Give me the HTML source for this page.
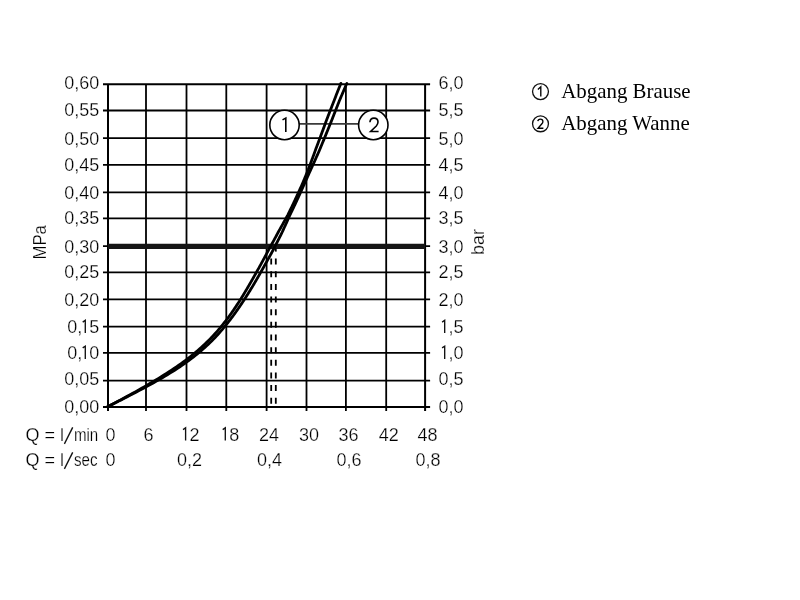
<!DOCTYPE html>
<html><head><meta charset="utf-8"><style>
html,body{margin:0;padding:0;background:#fff;width:800px;height:600px;overflow:hidden}
svg{display:block;filter:grayscale(1)}
</style></head><body>
<svg width="800" height="600" viewBox="0 0 800 600">
<rect width="800" height="600" fill="#fff"/>
<g stroke="#000" fill="none">
<line x1="103.00" y1="84.30" x2="430.10" y2="84.30" stroke-width="2.00"/>
<line x1="103.00" y1="110.50" x2="430.10" y2="110.50" stroke-width="1.80"/>
<line x1="103.00" y1="138.10" x2="430.10" y2="138.10" stroke-width="1.80"/>
<line x1="103.00" y1="164.80" x2="430.10" y2="164.80" stroke-width="1.80"/>
<line x1="103.00" y1="192.30" x2="430.10" y2="192.30" stroke-width="1.80"/>
<line x1="103.00" y1="218.40" x2="430.10" y2="218.40" stroke-width="1.80"/>
<line x1="103.00" y1="246.10" x2="430.10" y2="246.10" stroke-width="1.80"/>
<line x1="103.00" y1="272.40" x2="430.10" y2="272.40" stroke-width="1.80"/>
<line x1="103.00" y1="299.30" x2="430.10" y2="299.30" stroke-width="1.80"/>
<line x1="103.00" y1="326.60" x2="430.10" y2="326.60" stroke-width="1.80"/>
<line x1="103.00" y1="352.90" x2="430.10" y2="352.90" stroke-width="1.80"/>
<line x1="103.00" y1="380.70" x2="430.10" y2="380.70" stroke-width="1.80"/>
<line x1="103.00" y1="406.90" x2="430.10" y2="406.90" stroke-width="2.00"/>
<line x1="108.00" y1="84.30" x2="108.00" y2="410.90" stroke-width="2.00"/>
<line x1="146.00" y1="84.30" x2="146.00" y2="410.90" stroke-width="1.80"/>
<line x1="186.50" y1="84.30" x2="186.50" y2="410.90" stroke-width="1.80"/>
<line x1="226.30" y1="84.30" x2="226.30" y2="410.90" stroke-width="1.80"/>
<line x1="266.60" y1="84.30" x2="266.60" y2="410.90" stroke-width="1.80"/>
<line x1="306.50" y1="84.30" x2="306.50" y2="410.90" stroke-width="1.80"/>
<line x1="345.90" y1="84.30" x2="345.90" y2="410.90" stroke-width="1.80"/>
<line x1="386.20" y1="84.30" x2="386.20" y2="410.90" stroke-width="1.80"/>
<line x1="425.10" y1="84.30" x2="425.10" y2="410.90" stroke-width="2.00"/>
<line x1="108.00" y1="246.35" x2="425.10" y2="246.35" stroke-width="5.3" stroke="#151515"/>
<line x1="271.2" y1="258.6" x2="271.2" y2="406" stroke-width="1.8" stroke-dasharray="6 6.65"/>
<line x1="275.8" y1="248.4" x2="275.8" y2="251.6" stroke-width="1.8"/>
<line x1="275.8" y1="258.6" x2="275.8" y2="406" stroke-width="1.8" stroke-dasharray="6 6.65"/>
<line x1="299" y1="123.9" x2="359" y2="123.9" stroke="#3a3a3a" stroke-width="1.8"/>
<path d="M107.60,406.80 L109.04,406.03 L110.48,405.26 L111.91,404.49 L113.35,403.72 L114.79,402.95 L116.23,402.18 L117.67,401.41 L119.11,400.64 L120.54,399.87 L123.61,398.22 L126.67,396.57 L129.71,394.92 L132.72,393.26 L135.72,391.61 L138.69,389.95 L141.63,388.29 L144.55,386.64 L147.43,384.98 L150.27,383.32 L153.08,381.67 L155.85,380.01 L158.58,378.36 L161.26,376.70 L163.91,375.05 L166.50,373.40 L169.06,371.74 L171.56,370.09 L174.02,368.45 L176.43,366.81 L178.79,365.17 L181.11,363.53 L183.37,361.90 L185.58,360.26 L187.74,358.62 L189.85,356.99 L191.91,355.36 L193.92,353.73 L195.88,352.10 L197.80,350.48 L199.67,348.86 L201.49,347.24 L203.26,345.62 L204.99,344.00 L206.68,342.38 L208.32,340.76 L209.92,339.14 L211.49,337.53 L213.01,335.91 L214.50,334.29 L215.96,332.67 L217.38,331.05 L218.78,329.43 L220.14,327.82 L221.48,326.20 L222.79,324.58 L224.07,322.96 L225.33,321.34 L226.57,319.73 L227.79,318.11 L228.99,316.49 L230.16,314.87 L231.32,313.25 L232.46,311.63 L233.59,310.01 L234.69,308.39 L235.78,306.77 L236.85,305.14 L237.91,303.52 L238.96,301.89 L239.99,300.27 L241.01,298.65 L242.02,297.02 L243.02,295.40 L244.01,293.77 L244.99,292.15 L245.96,290.52 L246.93,288.90 L247.88,287.27 L248.83,285.65 L249.77,284.02 L250.71,282.40 L251.65,280.78 L252.57,279.16 L253.50,277.54 L254.42,275.92 L255.33,274.30 L256.24,272.67 L257.15,271.05 L258.05,269.43 L258.95,267.81 L259.84,266.19 L260.73,264.56 L261.62,262.94 L262.50,261.32 L263.38,259.70 L264.26,258.07 L265.13,256.45 L266.01,254.83 L266.87,253.20 L267.74,251.58 L268.61,249.96 L269.48,248.34 L270.36,246.74 L271.25,245.13 L272.13,243.52 L273.01,241.91 L273.88,240.31 L274.75,238.70 L275.62,237.09 L276.48,235.48 L277.34,233.88 L278.20,232.27 L279.07,230.67 L279.97,229.09 L280.86,227.50 L281.75,225.92 L282.64,224.34 L283.52,222.75 L284.40,221.17 L285.28,219.58 L286.15,218.00 L287.02,216.41 L287.88,214.83 L288.69,213.22 L289.48,211.60 L290.26,209.98 L291.04,208.36 L291.82,206.74 L292.59,205.13 L293.36,203.51 L294.13,201.89 L294.89,200.27 L295.64,198.66 L296.40,197.04 L297.14,195.42 L297.89,193.80 L298.63,192.19 L299.36,190.57 L300.09,188.95 L300.82,187.33 L301.54,185.71 L302.25,184.09 L302.94,182.46 L303.63,180.83 L304.31,179.20 L304.98,177.57 L305.65,175.94 L306.32,174.32 L306.99,172.69 L307.65,171.06 L308.31,169.43 L308.93,167.78 L309.55,166.14 L310.16,164.50 L310.78,162.86 L311.39,161.22 L311.99,159.58 L312.60,157.93 L313.20,156.29 L313.80,154.65 L314.39,153.01 L314.98,151.37 L315.58,149.73 L316.18,148.10 L316.80,146.47 L317.41,144.84 L318.02,143.21 L318.63,141.58 L319.24,139.95 L319.84,138.32 L320.45,136.69 L321.05,135.06 L321.65,133.43 L322.25,131.80 L322.85,130.17 L323.45,128.54 L324.05,126.91 L324.65,125.28 L325.25,123.64 L325.84,122.01 L326.44,120.38 L327.05,118.75 L327.67,117.13 L328.29,115.51 L328.92,113.88 L329.55,112.26 L330.17,110.64 L330.80,109.01 L331.43,107.39 L332.07,105.76 L332.70,104.14 L333.34,102.51 L333.98,100.89 L334.62,99.26 L335.25,97.63 L335.88,96.00 L336.51,94.36 L337.15,92.73 L337.79,91.09 L338.44,89.46 L339.09,87.82 L339.74,86.19 L340.40,84.55 L340.87,83.40" fill="none" stroke-width="2.8" stroke-linecap="round" stroke-linejoin="round"/>
<path d="M107.60,406.80 L109.05,406.06 L110.51,405.32 L111.96,404.58 L113.42,403.84 L114.87,403.10 L116.32,402.35 L117.77,401.61 L119.23,400.87 L120.68,400.13 L123.78,398.54 L126.87,396.95 L129.94,395.36 L133.00,393.77 L136.03,392.19 L139.05,390.60 L142.03,389.02 L144.99,387.43 L147.91,385.85 L150.81,384.26 L153.66,382.68 L156.48,381.09 L159.26,379.51 L162.00,377.92 L164.69,376.33 L167.34,374.74 L169.95,373.16 L172.51,371.57 L175.02,369.97 L177.48,368.37 L179.89,366.76 L182.25,365.16 L184.56,363.56 L186.82,361.95 L189.03,360.35 L191.19,358.74 L193.31,357.13 L195.37,355.52 L197.37,353.90 L199.33,352.28 L201.23,350.66 L203.09,349.04 L204.91,347.42 L206.68,345.80 L208.40,344.18 L210.09,342.55 L211.73,340.93 L213.33,339.31 L214.90,337.69 L216.43,336.06 L217.92,334.44 L219.39,332.82 L220.82,331.19 L222.22,329.57 L223.59,327.95 L224.94,326.32 L226.26,324.70 L227.55,323.08 L228.83,321.46 L230.08,319.83 L231.31,318.21 L232.52,316.59 L233.71,314.97 L234.88,313.34 L236.04,311.72 L237.18,310.10 L238.31,308.48 L239.43,306.87 L240.53,305.25 L241.62,303.63 L242.69,302.02 L243.75,300.40 L244.80,298.78 L245.85,297.16 L246.88,295.55 L247.90,293.93 L248.91,292.32 L249.91,290.70 L250.90,289.08 L251.89,287.47 L252.87,285.85 L253.83,284.23 L254.79,282.61 L255.74,280.99 L256.68,279.37 L257.62,277.75 L258.56,276.13 L259.49,274.51 L260.41,272.89 L261.33,271.27 L262.25,269.65 L263.16,268.04 L264.07,266.42 L264.98,264.80 L265.88,263.18 L266.78,261.56 L267.68,259.94 L268.57,258.32 L269.46,256.71 L270.35,255.09 L271.24,253.47 L272.12,251.85 L272.99,250.22 L273.84,248.59 L274.68,246.96 L275.52,245.32 L276.36,243.69 L277.20,242.06 L278.04,240.42 L278.87,238.79 L279.69,237.16 L280.52,235.52 L281.34,233.89 L282.14,232.25 L282.90,230.59 L283.66,228.93 L284.42,227.27 L285.18,225.61 L285.92,223.96 L286.67,222.30 L287.41,220.64 L288.15,218.99 L288.88,217.33 L289.61,215.67 L290.39,214.05 L291.18,212.42 L291.96,210.80 L292.74,209.18 L293.51,207.55 L294.28,205.93 L295.05,204.30 L295.81,202.68 L296.57,201.06 L297.32,199.43 L298.07,197.81 L298.81,196.19 L299.55,194.56 L300.29,192.94 L301.02,191.32 L301.75,189.69 L302.47,188.07 L303.19,186.45 L303.92,184.83 L304.66,183.22 L305.39,181.60 L306.12,179.99 L306.85,178.38 L307.57,176.77 L308.29,175.16 L309.01,173.55 L309.72,171.93 L310.43,170.32 L311.17,168.72 L311.90,167.12 L312.63,165.52 L313.36,163.93 L314.09,162.33 L314.81,160.73 L315.53,159.13 L316.24,157.53 L316.95,155.93 L317.66,154.33 L318.37,152.73 L319.07,151.13 L319.76,149.52 L320.43,147.90 L321.10,146.29 L321.76,144.68 L322.43,143.07 L323.09,141.46 L323.76,139.85 L324.42,138.24 L325.07,136.62 L325.73,135.01 L326.39,133.40 L327.05,131.79 L327.70,130.18 L328.36,128.57 L329.01,126.96 L329.66,125.35 L330.32,123.74 L330.97,122.13 L331.62,120.52 L332.25,118.90 L332.88,117.28 L333.51,115.66 L334.14,114.05 L334.78,112.43 L335.41,110.81 L336.05,109.20 L336.69,107.58 L337.33,105.96 L337.97,104.35 L338.62,102.73 L339.26,101.11 L339.93,99.51 L340.60,97.90 L341.28,96.29 L341.96,94.68 L342.64,93.08 L343.33,91.47 L344.02,89.87 L344.71,88.26 L345.41,86.66 L346.11,85.05 L346.82,83.45 L346.85,83.40" fill="none" stroke-width="2.8" stroke-linecap="round" stroke-linejoin="round"/>
<circle cx="284.5" cy="125" r="14.7" fill="#fff" stroke-width="1.6"/>
<circle cx="373.3" cy="125" r="14.7" fill="#fff" stroke-width="1.6"/>
<path d="M282.5,119.9 L285.8,118.1 L285.8,132.1" fill="none" stroke="#000" stroke-width="1.6" stroke-linejoin="miter"/>
<path d="M369.9,122.3 C370.1,119.8 371.8,118.1 374,118.1 C376.4,118.1 378,119.9 378,122.1 C378,123.6 377.3,124.8 376.3,126 L370.6,131.5 L378.6,131.5" fill="none" stroke="#000" stroke-width="1.6" stroke-linejoin="miter"/>
</g>
<g fill="#000" stroke="#fff" stroke-width="0.25" font-family="Liberation Sans, sans-serif" font-size="18">
<text x="64.17" y="413.40">0,00</text>
<text x="438.58" y="413.40">0,0</text>
<text x="64.17" y="385.20">0,05</text>
<text x="438.58" y="385.20">0,5</text>
<text x="67.18" y="358.90">0,</text>
<text x="89.19" y="358.90">0</text>
<text x="448.59" y="358.90">,0</text>
<text x="67.18" y="333.10">0,</text>
<text x="89.19" y="333.10">5</text>
<text x="448.59" y="333.10">,5</text>
<text x="64.17" y="305.55">0,20</text>
<text x="438.58" y="305.55">2,0</text>
<text x="64.17" y="278.05">0,25</text>
<text x="438.58" y="278.05">2,5</text>
<text x="64.17" y="253.10">0,30</text>
<text x="438.58" y="253.10">3,0</text>
<text x="64.17" y="224.20">0,35</text>
<text x="438.58" y="224.20">3,5</text>
<text x="64.17" y="199.40">0,40</text>
<text x="438.58" y="199.40">4,0</text>
<text x="64.17" y="170.60">0,45</text>
<text x="438.58" y="170.60">4,5</text>
<text x="64.17" y="144.75">0,50</text>
<text x="438.58" y="144.75">5,0</text>
<text x="64.17" y="116.05">0,55</text>
<text x="438.58" y="116.05">5,5</text>
<text x="64.17" y="88.75">0,60</text>
<text x="438.58" y="88.75">6,0</text>
<text x="105.50" y="440.60">0</text>
<text x="143.50" y="440.60">6</text>
<text x="189.50" y="440.60">2</text>
<text x="229.20" y="440.60">8</text>
<text x="259.09" y="440.60">24</text>
<text x="298.99" y="440.60">30</text>
<text x="338.39" y="440.60">36</text>
<text x="378.69" y="440.60">42</text>
<text x="417.59" y="440.60">48</text>
<text x="105.50" y="465.60">0</text>
<text x="176.99" y="465.60">0,2</text>
<text x="257.09" y="465.60">0,4</text>
<text x="336.39" y="465.60">0,6</text>
<text x="415.59" y="465.60">0,8</text>
<text x="64" y="440.6" text-anchor="end">Q = l</text>
<text x="64" y="465.6" text-anchor="end">Q = l</text>
<text x="73.9" y="440.6" textLength="24.3" lengthAdjust="spacingAndGlyphs">min</text>
<text x="73.9" y="465.6" textLength="23.6" lengthAdjust="spacingAndGlyphs">sec</text>
<text transform="translate(45.5,242.3) rotate(-90)" text-anchor="middle" textLength="34.5" lengthAdjust="spacingAndGlyphs">MPa</text>
<text transform="translate(484.4,242) rotate(-90)" text-anchor="middle">bar</text>
</g>
<g fill="none" stroke="#111" stroke-width="1.35">
<path d="M82.69,347.90 L85.29,346.15 L85.29,358.90"/>
<path d="M442.09,347.90 L444.69,346.15 L444.69,358.90"/>
<path d="M82.69,322.10 L85.29,320.35 L85.29,333.10"/>
<path d="M442.09,322.10 L444.69,320.35 L444.69,333.10"/>
<path d="M183.00,429.60 L185.60,427.85 L185.60,440.60"/>
<path d="M222.70,429.60 L225.30,427.85 L225.30,440.60"/>
<path d="M64.4,443.9 L72.7,427.4"/>
<path d="M64.4,468.9 L72.7,452.4"/>
</g>
<g fill="#000">
<circle cx="540.5" cy="91.60" r="7.95" fill="none" stroke="#111" stroke-width="1.3"/>
<text x="561.2" y="97.80" font-family="Liberation Serif, serif" font-size="20.9">Abgang Brause</text>
<circle cx="540.5" cy="123.80" r="7.95" fill="none" stroke="#111" stroke-width="1.3"/>
<text x="561.2" y="130.00" font-family="Liberation Serif, serif" font-size="20.9">Abgang Wanne</text>
<path d="M537.9,89.4 L540.8,86.7 L540.8,96.4" fill="none" stroke="#000" stroke-width="1.35"/>
<path d="M537.8,121.2 C538,119.9 539,119.1 540.3,119.1 C541.8,119.1 542.9,120 542.9,121.4 C542.9,122.3 542.5,123 541.9,123.7 L538,128.2 L543.4,128.2" fill="none" stroke="#000" stroke-width="1.35"/>
</g>
</svg>
</body></html>
